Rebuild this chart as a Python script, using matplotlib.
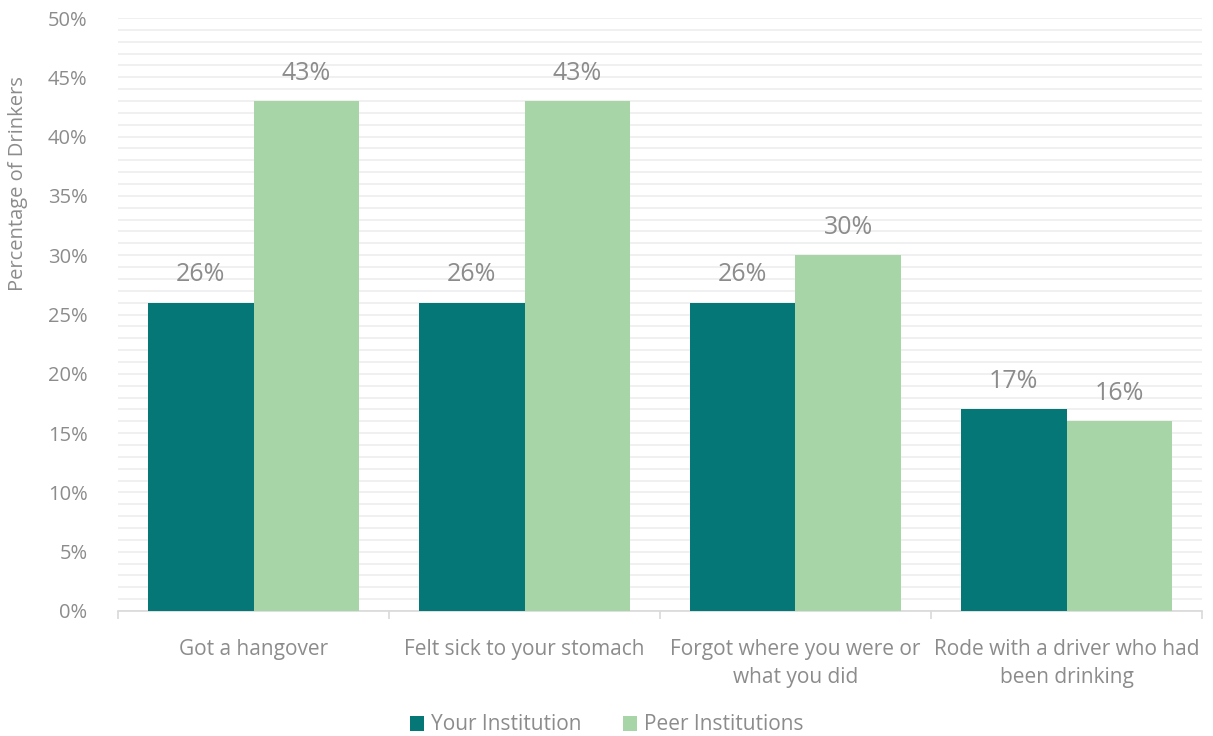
import numpy as np
import matplotlib.pyplot as plt
from matplotlib.ticker import MultipleLocator, PercentFormatter

categories = ["Got a hangover", "Felt sick to your stomach",
              "Forgot where you were or\nwhat you did",
              "Rode with a driver who had\nbeen drinking"]
your_inst = [26, 26, 26, 17]
peer_inst = [43, 43, 30, 16]
series_names = ["Your Institution", "Peer Institutions"]

teal = "#057776"
green = "#a8d5a8"
grey = "#8c8c8c"

plt.rcParams['font.family'] = ['Open Sans', 'DejaVu Sans']

fig = plt.figure(figsize=(12.13, 7.36), dpi=100)
ax = fig.add_axes([118/1213, 1-611/736, (1202-118)/1213, (611-18)/736])

x = np.arange(len(categories))
w = 0.39
b1 = ax.bar(x - w/2, your_inst, w, color=teal, label=series_names[0], zorder=3)
b2 = ax.bar(x + w/2, peer_inst, w, color=green, label=series_names[1], zorder=3)

for bars in (b1, b2):
    for rect in bars:
        h = rect.get_height()
        ax.text(rect.get_x() + rect.get_width()/2, h + 1.3, f"{h:.0f}%",
                ha='center', va='bottom', fontsize=18, color=grey)

ax.set_xlim(-0.5, len(categories) - 0.5)
ax.set_ylim(0, 50)
ax.yaxis.set_major_locator(MultipleLocator(5))
ax.yaxis.set_minor_locator(MultipleLocator(1))
ax.yaxis.set_major_formatter(PercentFormatter(decimals=0))
ax.grid(axis='y', which='both', color='#efefef', linewidth=1.3, zorder=0)
ax.tick_params(axis='y', which='both', length=0, labelsize=14.5, labelcolor=grey, pad=22)

# category labels between boundary ticks
ax.set_xticks(x)
ax.set_xticklabels(categories, fontsize=15, color=grey, linespacing=1.45)
ax.tick_params(axis='x', which='major', length=0, pad=20)
ax.set_xticks(np.arange(len(categories) + 1) - 0.5, minor=True)
ax.tick_params(axis='x', which='minor', length=6, color='#d9d9d9', width=1.2)

for s in ['top', 'right', 'left']:
    ax.spines[s].set_visible(False)
ax.spines['bottom'].set_color('#d9d9d9')
ax.spines['bottom'].set_linewidth(1.2)

ax.set_ylabel("Percentage of Drinkers", fontsize=14.5, color=grey)
ax.yaxis.set_label_coords(-0.083, 0.72)

fig.legend(loc='center', bbox_to_anchor=(0.5, 1 - 725/736), ncol=2, frameon=False,
           fontsize=15, labelcolor=grey, handlelength=0.7, handleheight=0.7,
           handletextpad=0.3, columnspacing=2.0, borderaxespad=0)

fig.savefig("out.png", dpi=100)
